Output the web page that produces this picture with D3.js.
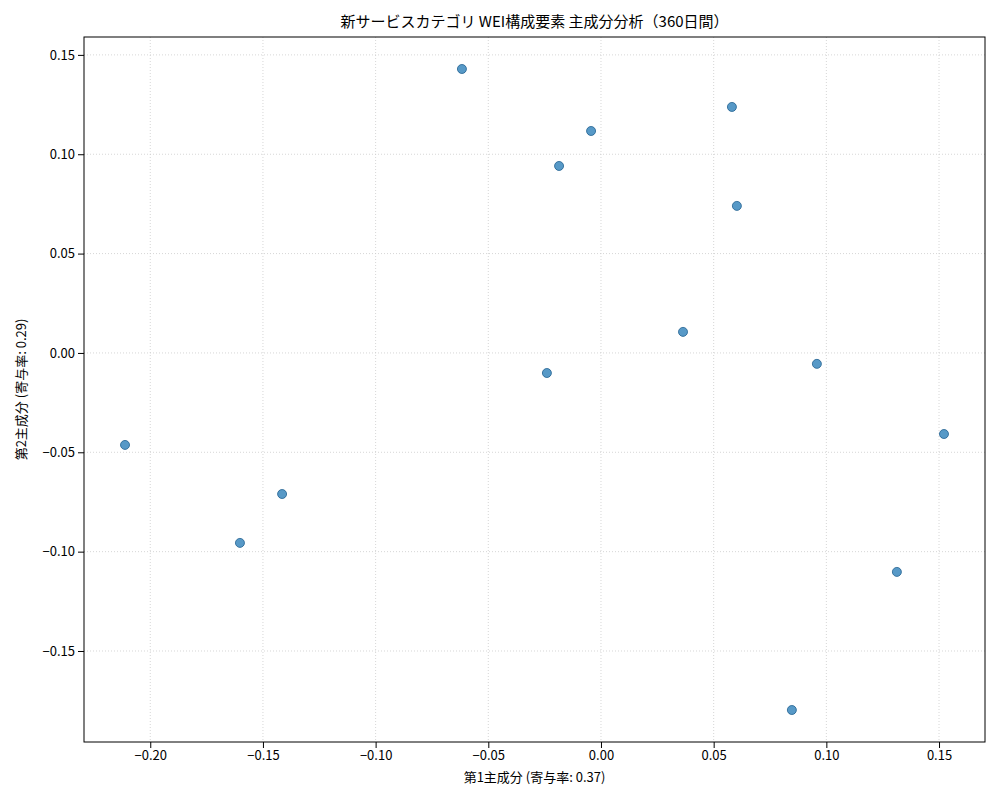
<!DOCTYPE html>
<html><head><meta charset="utf-8">
<script src="https://cdn.jsdelivr.net/npm/d3@7"></script>
<style>body{margin:0;background:#fff;font-family:"Noto Sans CJK JP","DejaVu Sans",sans-serif;}</style>
</head><body><div id="chart"></div>
<script>
var pc1 = [-0.0617, 0.0581, -0.0044, -0.0186, 0.0603, 0.0364, -0.0240, 0.0958, 0.1522, -0.2112, -0.1415, -0.1602, 0.1313, 0.0847];
var pc2 = [0.1429, 0.1238, 0.1117, 0.0941, 0.0740, 0.0106, -0.0101, -0.0055, -0.0408, -0.0463, -0.0710, -0.0956, -0.1102, -0.1797];
var xTicks = [-0.20, -0.15, -0.10, -0.05, 0.00, 0.05, 0.10, 0.15];
var yTicks = [-0.15, -0.10, -0.05, 0.00, 0.05, 0.10, 0.15];

var width = 1000, height = 800;
var m = {left: 84, right: 15, top: 37, bottom: 58};

var svg = d3.select("#chart").append("svg")
    .attr("width", width).attr("height", height);

var x = d3.scaleLinear().domain([-0.2294, 0.1704]).range([m.left, width - m.right]);
var y = d3.scaleLinear().domain([-0.1958, 0.159]).range([height - m.bottom, m.top]);

var fmt = function (d) { return d3.format(".2f")(d).replace("-", "\u2212"); };

// grid
svg.append("g").selectAll("line").data(xTicks).enter().append("line")
    .attr("x1", x).attr("x2", x).attr("y1", m.top).attr("y2", height - m.bottom)
    .attr("stroke", "#ccc").attr("stroke-dasharray", "1,2").attr("stroke-width", 0.8);
svg.append("g").selectAll("line").data(yTicks).enter().append("line")
    .attr("y1", y).attr("y2", y).attr("x1", m.left).attr("x2", width - m.right)
    .attr("stroke", "#ccc").attr("stroke-dasharray", "1,2").attr("stroke-width", 0.8);

var xAxis = svg.append("g").attr("transform", "translate(0," + (height - m.bottom) + ")")
    .call(d3.axisBottom(x).tickValues(xTicks).tickFormat(fmt).tickSizeOuter(0));
var yAxis = svg.append("g").attr("transform", "translate(" + m.left + ",0)")
    .call(d3.axisLeft(y).tickValues(yTicks).tickFormat(fmt).tickSizeOuter(0));
[xAxis, yAxis].forEach(function (a) {
    a.selectAll("text").attr("font-size", 13).attr("fill", "#000").attr("font-family", "Noto Sans CJK JP");
    a.select(".domain").remove();
});

svg.append("rect").attr("x", m.left).attr("y", m.top)
    .attr("width", width - m.left - m.right).attr("height", height - m.top - m.bottom)
    .attr("fill", "none").attr("stroke", "#000").attr("stroke-width", 1);

svg.append("g").selectAll("circle").data(pc1).enter().append("circle")
    .attr("cx", function (d) { return x(d); })
    .attr("cy", function (d, i) { return y(pc2[i]); })
    .attr("r", 4.5)
    .attr("fill", "#1f77b4").attr("fill-opacity", 0.75)
    .attr("stroke", "#1f5f8f").attr("stroke-width", 0.8);

svg.append("text").attr("x", (m.left + width - m.right) / 2).attr("y", 27)
    .attr("text-anchor", "middle").attr("font-size", 15)
    .text("新サービスカテゴリ WEI構成要素 主成分分析（360日間）");
svg.append("text").attr("x", (m.left + width - m.right) / 2).attr("y", 782)
    .attr("text-anchor", "middle").attr("font-size", 13)
    .text("第1主成分 (寄与率: 0.37)");
svg.append("text").attr("transform", "translate(26," + ((m.top + height - m.bottom) / 2) + ") rotate(-90)")
    .attr("text-anchor", "middle").attr("font-size", 13)
    .text("第2主成分 (寄与率: 0.29)");
</script>
</body></html>
